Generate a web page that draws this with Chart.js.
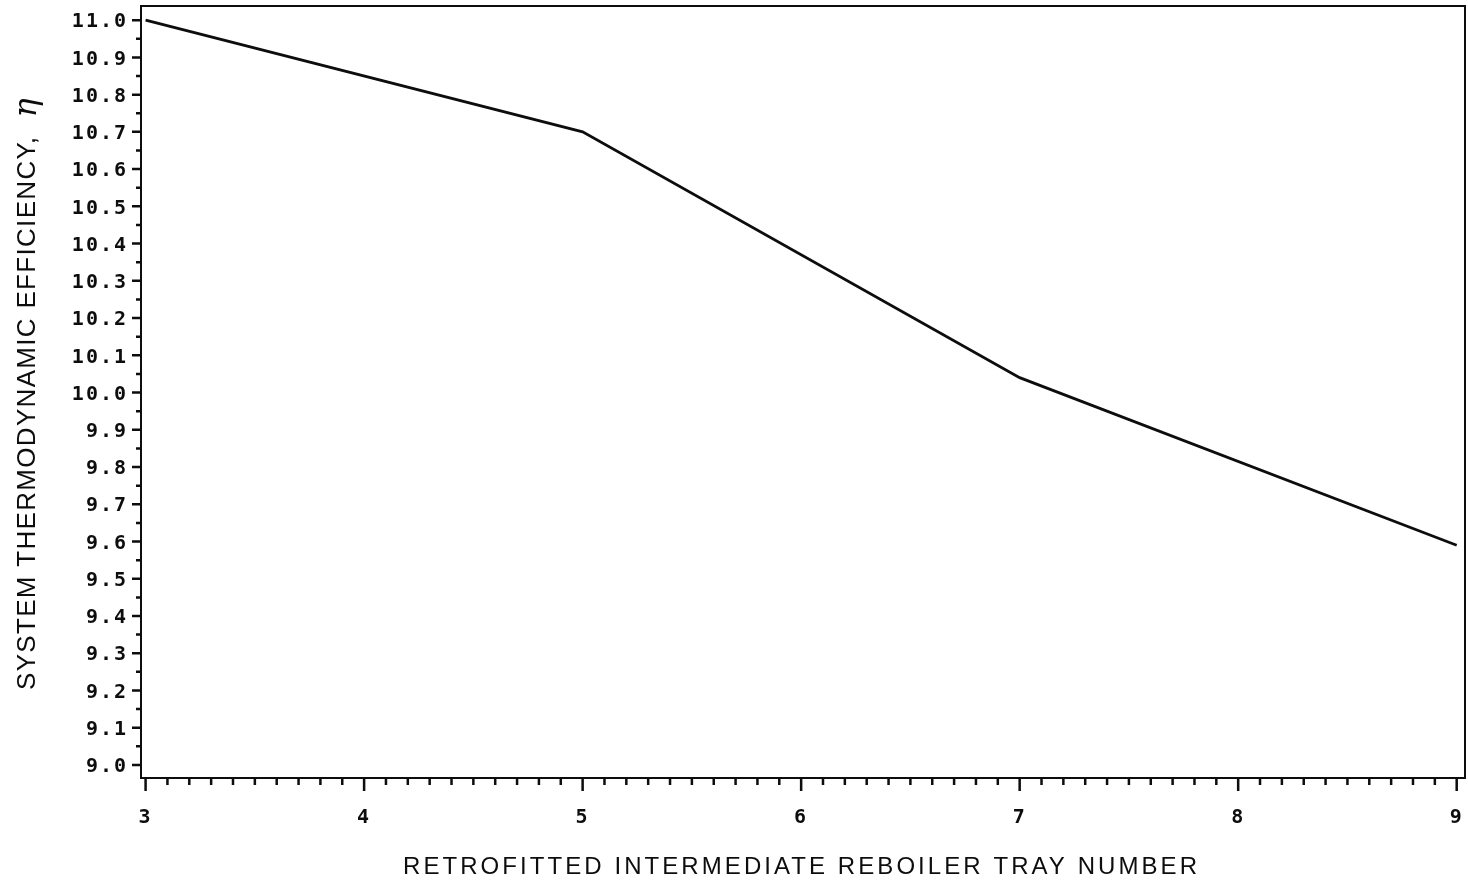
<!DOCTYPE html>
<html>
<head>
<meta charset="utf-8">
<script src="https://cdn.jsdelivr.net/npm/chart.js@4/dist/chart.umd.min.js"></script>
<style>
  html, body { margin: 0; padding: 0; background: #fff; }
  canvas { display: block; }
</style>
</head>
<body>
<canvas id="c" width="1468" height="885"></canvas>
<script>
// Tray positions and the resulting system efficiency
const trayNumbers = [3, 5, 7, 9];
const efficiency = [11.0, 10.70, 10.04, 9.59];

// Labelled ticks on each axis
const xTickValues = [3, 4, 5, 6, 7, 8, 9];
const yTickValues = [9.0, 9.1, 9.2, 9.3, 9.4, 9.5, 9.6, 9.7, 9.8, 9.9, 10.0,
                     10.1, 10.2, 10.3, 10.4, 10.5, 10.6, 10.7, 10.8, 10.9, 11.0];

const xTitle = 'RETROFITTED INTERMEDIATE REBOILER TRAY NUMBER';
const yTitle = 'SYSTEM THERMODYNAMIC EFFICIENCY,';
const yTitleSymbol = 'η';

const INK = '#0d0d0d';
const tickFont = { family: '"DejaVu Sans Mono", monospace', size: 20, weight: 'bold' };

// Frame, minor/major tick marks and axis titles
const plotterDecor = {
  id: 'plotterDecor',
  beforeDraw(chart) {
    chart.ctx.letterSpacing = '2px';
  },
  afterDraw(chart) {
    const { ctx, chartArea: a, scales: { x, y } } = chart;
    ctx.save();
    ctx.letterSpacing = '0px';
    ctx.strokeStyle = INK;
    ctx.lineWidth = 2;
    ctx.strokeRect(a.left, a.top, a.right - a.left, a.bottom - a.top);

    // x ticks: major every 1, minor every 0.1, pointing down
    ctx.lineWidth = 2.5;
    ctx.beginPath();
    for (let i = 30; i <= 90; i++) {
      const px = x.getPixelForValue(i / 10);
      const len = i % 10 === 0 ? 13 : 7;
      ctx.moveTo(px, a.bottom);
      ctx.lineTo(px, a.bottom + len);
    }
    // y ticks: major every 0.1, minor every 0.05, pointing left
    for (let i = 180; i <= 220; i++) {
      const py = y.getPixelForValue(i / 20);
      const len = i % 2 === 0 ? 9 : 5;
      ctx.moveTo(a.left, py);
      ctx.lineTo(a.left - len, py);
    }
    ctx.stroke();

    // x-axis title
    ctx.fillStyle = INK;
    ctx.font = '24px "Liberation Sans", Arial, sans-serif';
    ctx.textBaseline = 'alphabetic';
    drawSpaced(ctx, xTitle, 800, 874, 794);

    // y-axis title, rotated
    ctx.save();
    ctx.translate(35, 0);
    ctx.rotate(-Math.PI / 2);
    ctx.font = '26px "Liberation Sans", Arial, sans-serif';
    drawSpaced(ctx, yTitle, -(690 + 137) / 2, 0, 553);
    ctx.font = 'italic 32px "DejaVu Serif", serif';
    ctx.textAlign = 'center';
    ctx.fillText(yTitleSymbol, -108, 1);
    ctx.restore();

    ctx.restore();
  }
};

// Draws centred text, spreading the letters to fill the given width
function drawSpaced(ctx, text, cx, cy, width) {
  ctx.letterSpacing = '0px';
  const base = ctx.measureText(text).width;
  const sp = (width - base) / (text.length - 1);
  ctx.letterSpacing = sp + 'px';
  ctx.textAlign = 'left';
  ctx.fillText(text, cx - width / 2, cy);
  ctx.letterSpacing = '0px';
}

new Chart(document.getElementById('c'), {
  type: 'line',
  data: {
    datasets: [{
      data: trayNumbers.map((t, i) => ({ x: t, y: efficiency[i] })),
      borderColor: INK,
      borderWidth: 2.8,
      pointRadius: 0,
      tension: 0,
      fill: false
    }]
  },
  options: {
    responsive: false,
    animation: false,
    devicePixelRatio: 1,
    layout: { padding: { left: 0, right: 3, top: 6, bottom: 0 } },
    plugins: { legend: { display: false }, tooltip: { enabled: false } },
    scales: {
      x: {
        type: 'linear',
        min: 2.979,
        max: 9.038,
        afterFit(s) {
          s.height = 107;
          s.paddingLeft = 0; s.paddingRight = 0;
        },
        afterBuildTicks(s) { s.ticks = xTickValues.map(v => ({ value: v })); },
        grid: { display: false, drawTicks: false },
        border: { display: false },
        ticks: {
          font: tickFont,
          color: INK,
          padding: 28,
          maxRotation: 0,
          autoSkip: false,
          callback: v => String(v)
        }
      },
      y: {
        type: 'linear',
        min: 8.965,
        max: 11.038,
        afterFit(s) {
          s.width = 141;
          s.paddingTop = 0; s.paddingBottom = 0;
        },
        afterBuildTicks(s) { s.ticks = yTickValues.map(v => ({ value: v })); },
        grid: { display: false, drawTicks: false },
        border: { display: false },
        ticks: {
          font: tickFont,
          color: INK,
          padding: 13,
          labelOffset: 2,
          autoSkip: false,
          callback: v => v.toFixed(1)
        }
      }
    }
  },
  plugins: [plotterDecor]
});
</script>
</body>
</html>
